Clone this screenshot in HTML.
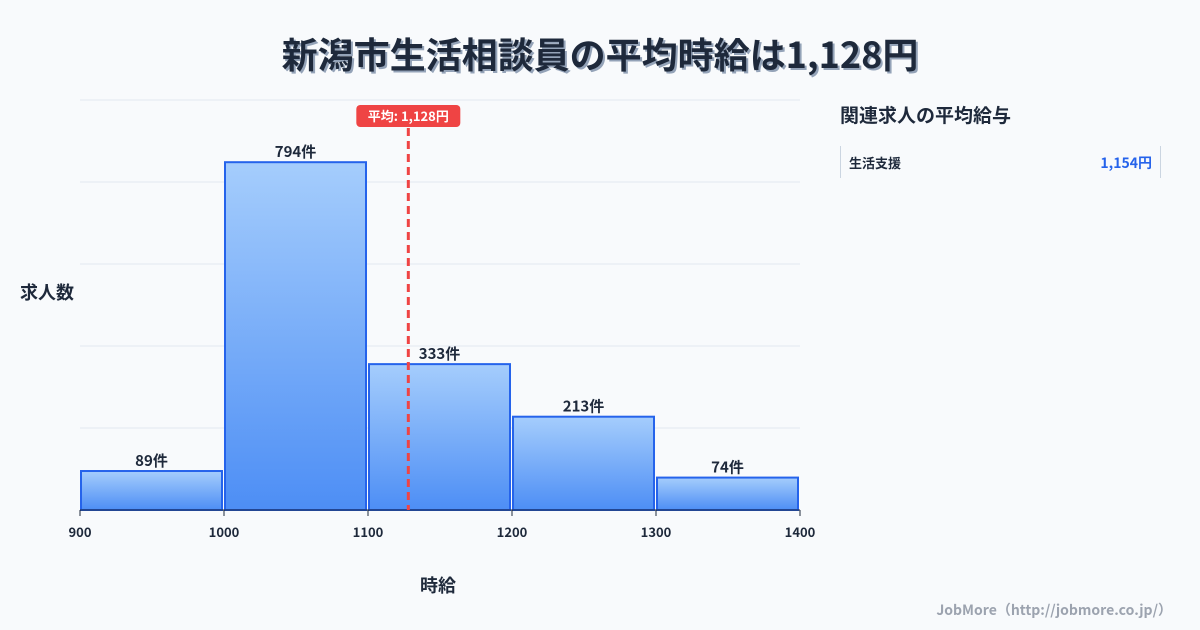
<!DOCTYPE html>
<html><head><meta charset="utf-8"><style>
body{margin:0;width:1200px;height:630px;background:#f8fafc;font-family:"Noto Sans CJK JP","Liberation Sans",sans-serif;overflow:hidden;position:relative}
.t{position:absolute;white-space:nowrap}
</style></head><body>
<div class="t" style="left:0;width:1200px;text-align:center;top:27px;font-size:36px;font-weight:bold;color:#1e293b;text-shadow:2px 2px 0 #94a3b8;line-height:52px">新潟市生活相談員の平均時給は1,128円</div>
<svg id="c" width="1200" height="630" style="position:absolute;left:0;top:0;font-family:'Noto Sans CJK JP','Liberation Sans',sans-serif">
<defs><linearGradient id="g" x1="0" y1="0" x2="0" y2="1"><stop offset="0" stop-color="#a5cdfc"/><stop offset="1" stop-color="#4d8ef5"/></linearGradient></defs>
</svg>
<div class="t" style="left:20px;top:279px;font-size:18px;font-weight:bold;color:#1e293b">求人数</div>
<div class="t" style="left:420px;top:572px;font-size:18px;font-weight:bold;color:#1e293b">時給</div>
<div class="t" style="left:840px;top:101px;font-size:19px;font-weight:bold;color:#1e293b">関連求人の平均給与</div>
<div style="position:absolute;left:840px;top:146px;width:319px;height:32px;border-left:1px solid #cbd5e1;border-right:1px solid #cbd5e1">
<span class="t" style="left:8px;top:7px;font-size:13px;font-weight:bold;color:#1e293b">生活支援</span>
<span class="t" style="right:8px;top:7px;font-size:14px;font-weight:bold;color:#2563eb">1,154円</span>
</div>
<div class="t" style="right:28px;top:600px;font-size:14px;font-weight:bold;color:#9ca3af">JobMore（http://jobmore.co.jp/）</div>
<script>
const binStarts=[900,1000,1100,1200,1300];
const counts=[89,794,333,213,74];
const xTicks=[900,1000,1100,1200,1300,1400];
const meanValue=1128;
const meanLabel="平均: 1,128円";
const svg=document.getElementById('c');const NS='http://www.w3.org/2000/svg';
const X0=80,X1=800,Y0=510,YT=100,xmin=900,xmax=1400,ymax=936;
const xs=v=>X0+(v-xmin)/(xmax-xmin)*(X1-X0);
const ys=v=>Y0-v/ymax*(Y0-YT);
function mk(t,a){const e=document.createElementNS(NS,t);for(const k in a)e.setAttribute(k,a[k]);svg.appendChild(e);return e;}
for(let i=0;i<5;i++){const y=YT+i*(Y0-YT)/5;const l=mk('line',{x1:X0,x2:X1,y1:y,y2:y,stroke:'#e2e8f0','stroke-width':1});

}
binStarts.forEach((b,i)=>{const x=xs(b)+1,w=xs(b+100)-xs(b)-3,y=ys(counts[i]);
const r=mk('rect',{x:x,y:y,width:w,height:Y0-y,fill:'url(#g)',stroke:'#2563eb','stroke-width':2});


const t=mk('text',{x:x+w/2,y:y-5,'text-anchor':'middle','font-size':15,'font-weight':'bold',fill:'#1e293b'});t.textContent=counts[i]+'件';

});
const ax=mk('line',{x1:X0,x2:X1,y1:Y0,y2:Y0,stroke:'#1e293b','stroke-width':1});


xTicks.forEach(v=>{const tk=mk('line',{x1:xs(v),x2:xs(v),y1:Y0,y2:Y0+6,stroke:'#1e293b'});


const t=mk('text',{x:xs(v),y:537,'text-anchor':'middle','font-size':13,'font-weight':'bold',fill:'#1e293b'});t.textContent=v;

});
const mx=xs(meanValue);
const ml=mk('line',{x1:mx,x2:mx,y1:128,y2:Y0,stroke:'#ef4444','stroke-width':3,'stroke-dasharray':'8,5'});


const mb=mk('rect',{x:mx-52,y:105,width:104,height:22,rx:4,fill:'#ef4444'});


const mt=mk('text',{x:mx,y:121,'text-anchor':'middle','font-size':13,'font-weight':'bold',fill:'#fff'});mt.textContent=meanLabel;


</script>
</body></html>
